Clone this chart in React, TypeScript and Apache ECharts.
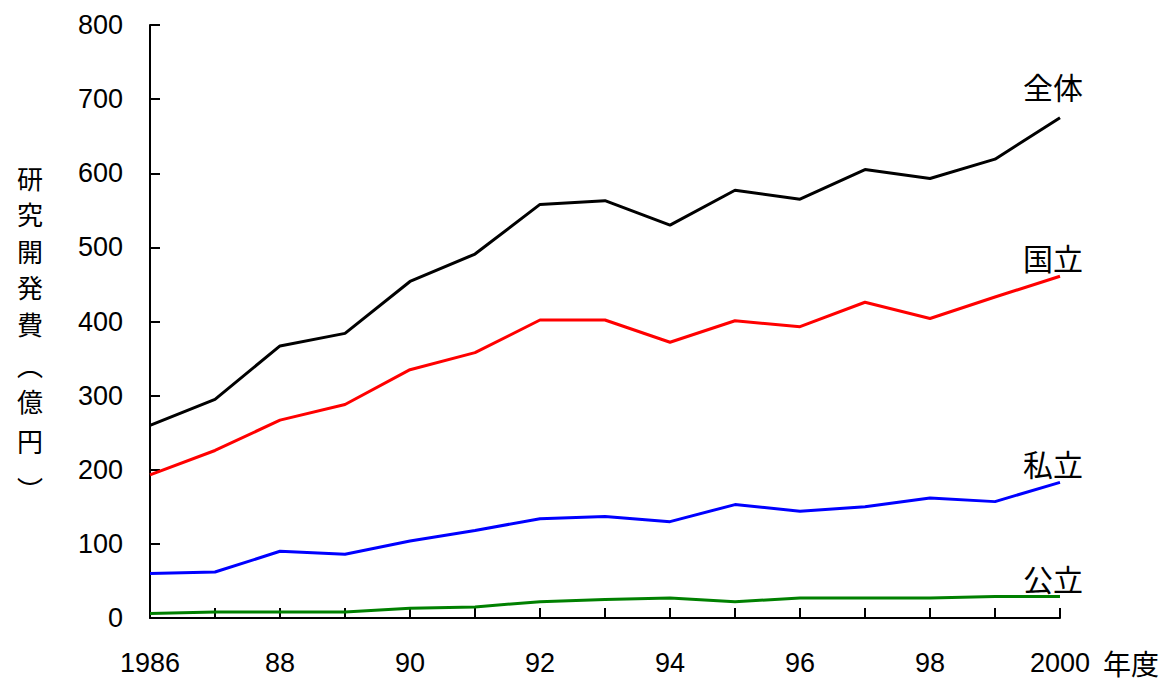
import React, { useEffect, useRef } from 'react';
import * as echarts from 'echarts';

const years = ['1986', '87', '88', '89', '90', '91', '92', '93', '94', '95', '96', '97', '98', '99', '2000'];
const total = [260, 295, 367, 384, 454, 491, 558, 563, 530, 577, 565, 605, 593, 619, 675];
const national = [193, 226, 267, 288, 335, 358, 402, 402, 372, 401, 393, 426, 404, 433, 461];
const privateU = [60, 62, 90, 86, 104, 118, 134, 137, 130, 153, 144, 150, 162, 157, 183];
const publicU = [6, 8, 8, 8, 13, 15, 22, 25, 27, 22, 27, 27, 27, 29, 29];
const seriesNames = ['全体', '国立', '私立', '公立'];
const seriesColors = ['#000000', '#ff0000', '#0000ff', '#008000'];
const yMin = 0;
const yMax = 800;
const yStep = 100;
const yAxisTitleChars = ['研', '究', '開', '発', '費', '︵', '億', '円', '︶'];
const xAxisTitle = '年度';

const NUM_FONT = '"Liberation Sans", Arial, sans-serif';
const CJK_FONT = '"Noto Sans CJK JP", "Noto Sans CJK SC", sans-serif';

// vertical centres of the stacked y-axis title characters
const titleCentres = [177, 213, 250, 286, 323, 364, 400, 440, 488];

export default function App() {
  const ref = useRef<HTMLDivElement>(null);
  useEffect(() => {
    if (!ref.current) return;
    const chart = echarts.init(ref.current, undefined, { renderer: 'svg' });
    const allData = [total, national, privateU, publicU];
    const labelDist = [17, 4, 4, 4];
    chart.setOption({
      animation: false,
      backgroundColor: '#ffffff',
      grid: { left: 150, right: 107, top: 25, bottom: 62, containLabel: false },
      xAxis: {
        type: 'category',
        data: years,
        boundaryGap: false,
        axisLine: { show: true, lineStyle: { color: '#000', width: 2 } },
        axisTick: { show: true, inside: true, length: 10, interval: 0, lineStyle: { color: '#000', width: 2 } },
        axisLabel: {
          interval: 1,
          margin: 31,
          color: '#000',
          fontSize: 27,
          fontFamily: NUM_FONT,
        },
        splitLine: { show: false },
      },
      yAxis: {
        type: 'value',
        min: yMin,
        max: yMax,
        interval: yStep,
        axisLine: { show: true, lineStyle: { color: '#000', width: 2 } },
        axisTick: { show: true, inside: true, length: 10, lineStyle: { color: '#000', width: 2 } },
        axisLabel: {
          margin: 27,
          color: '#000',
          fontSize: 27,
          fontFamily: NUM_FONT,
        },
        splitLine: { show: false },
      },
      graphic: [
        ...yAxisTitleChars.map((ch, i) => ({
          type: 'text',
          x: 30,
          y: titleCentres[i],
          style: {
            text: ch,
            fontSize: 26,
            fill: '#000',
            fontFamily: CJK_FONT,
            align: 'center',
            verticalAlign: 'middle',
          },
        })),
        {
          type: 'text',
          x: 1103,
          y: 663,
          style: {
            text: xAxisTitle,
            fontSize: 28,
            fill: '#000',
            fontFamily: CJK_FONT,
            align: 'left',
            verticalAlign: 'middle',
          },
        },
      ],
      series: allData.map((arr, si) => ({
        name: seriesNames[si],
        type: 'line',
        symbol: 'circle',
        symbolSize: 0,
        showSymbol: true,
        lineStyle: { color: seriesColors[si], width: 3 },
        itemStyle: { color: seriesColors[si] },
        z: 10 - si,
        data: arr.map((v, i) =>
          i === arr.length - 1
            ? {
                value: v,
                label: {
                  show: true,
                  position: 'top',
                  distance: labelDist[si],
                  offset: [-7, 0],
                  formatter: seriesNames[si],
                  color: '#000',
                  fontSize: 30,
                  fontFamily: CJK_FONT,
                },
              }
            : v
        ),
      })),
    });
    return () => chart.dispose();
  }, []);
  return (
    <div
      ref={ref}
      style={{ position: 'fixed', left: 0, top: 0, width: 1167, height: 680, background: '#fff' }}
    />
  );
}
